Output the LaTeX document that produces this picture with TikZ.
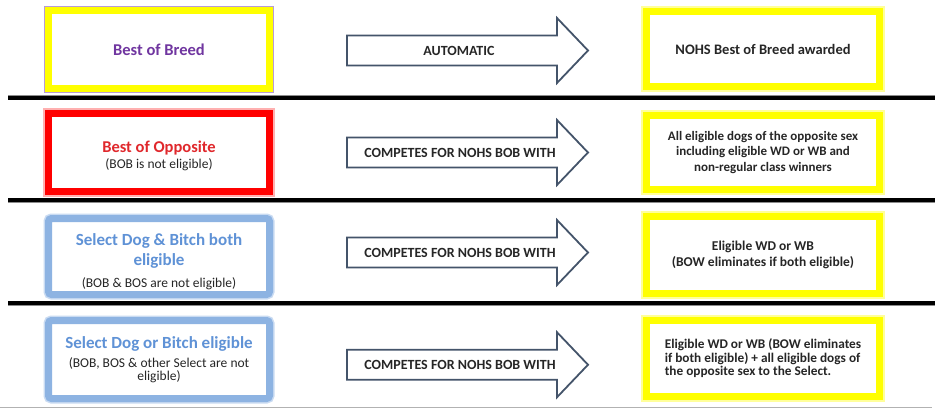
\documentclass[tikz,border=0pt]{standalone}
\usepackage{fontspec}
\setmainfont{Carlito}
\definecolor{ybord}{HTML}{FFFF00}
\definecolor{yglow}{HTML}{FFFF9A}
\definecolor{purpline}{HTML}{B79BD8}
\definecolor{purptext}{HTML}{7036A0}
\definecolor{redbord}{HTML}{FF0000}
\definecolor{redglow}{HTML}{FFB0B0}
\definecolor{redtext}{HTML}{E0282C}
\definecolor{bluebord}{HTML}{8DB3E2}
\definecolor{blueglow}{HTML}{C9DBF2}
\definecolor{bluetext}{HTML}{5F92D6}
\definecolor{arrowline}{HTML}{44546A}
\definecolor{dark}{HTML}{262626}
\newcommand{\boxfont}{\fontsize{13.5}{20}\selectfont\setlength{\lineskiplimit}{-100pt}}
\newcommand{\subt}{\fontsize{13.5}{20}\selectfont\mdseries}
\newcommand{\ttlfont}{\fontsize{17}{20}\selectfont\bfseries}
\tikzset{
  box/.style={rectangle, minimum width=221pt, inner sep=2pt, align=center, fill=white,
    font=\boxfont},
  rbox/.style={rectangle, minimum width=233pt, inner sep=2pt, fill=white, text=dark,
    draw=ybord, line width=7pt, preaction={draw=yglow, line width=11pt}},
  ybox/.style={box, draw=ybord, line width=7pt, preaction={draw=purpline, line width=9pt}},
  redbox/.style={box, draw=redbord, line width=7pt, preaction={draw=redglow, line width=11pt}},
  bluebox/.style={box, draw=bluebord, line width=7pt, rounded corners=3pt, preaction={draw=blueglow, line width=10pt}},
  arrowshape/.style={draw=arrowline, line width=1.8pt, fill=white, line join=miter},
  arrowtext/.style={inner sep=0pt, text=dark, font=\fontsize{14}{16}\selectfont\bfseries},
  sepline/.style={line width=3.2pt, black, preaction={draw=black!45, line width=5pt}},
}
\begin{document}
\begin{tikzpicture}[x=1pt,y=-1pt]
\useasboundingbox (0,0) rectangle (937,409);
\fill[white] (0,0) rectangle (937,409);

% separators
\draw[sepline] (8,98) -- (935,98);
\draw[sepline] (8,200) -- (935,200);
\draw[sepline] (8,303) -- (935,303);
\draw[black!30, line width=1pt] (0,407.5) -- (932,407.5);

% left boxes
\node[ybox, minimum height=78pt, text=purptext] (l1) at (159,49.5) {\fontsize{16.5}{20}\selectfont\bfseries Best of Breed};
\node[redbox, minimum height=78pt] (l2) at (159,152.5)
  {\rule{0pt}{18.5pt}\textcolor{redtext}{\fontsize{16.5}{20}\selectfont\bfseries Best of Opposite}\\[-4pt]
   \textcolor{dark}{\subt (BOB is not eligible)}};
\node[bluebox, minimum height=76pt] (l3) at (159,256.5)
  {\rule{0pt}{22pt}\textcolor{bluetext}{\ttlfont Select Dog \& Bitch both}\\
   \textcolor{bluetext}{\ttlfont eligible}\\[2pt]
   \textcolor{dark}{\subt (BOB \& BOS are not eligible)}};
\node[bluebox, minimum height=78pt] (l4) at (159,359.5)
  {\textcolor{bluetext}{\ttlfont Select Dog or Bitch eligible}\\[-1pt]
   \textcolor{dark}{\subt (BOB, BOS \& other Select are not}\\[-7pt]
   \textcolor{dark}{\subt eligible)}};

% right boxes
\node[rbox, minimum height=75pt, align=center, font=\fontsize{14.5}{17}\selectfont\bfseries] (r1) at (763,49) {NOHS Best of Breed awarded};
\node[rbox, minimum height=74pt, align=center, font=\fontsize{13}{15.5}\selectfont\bfseries] (r2) at (763,152.5)
  {All eligible dogs of the opposite sex\\including eligible WD or WB and\\non-regular class winners};
\node[rbox, minimum height=77pt, align=center, font=\fontsize{13.5}{15.5}\selectfont\bfseries] (r3) at (763,255)
  {Eligible WD or WB\\(BOW eliminates if both eligible)};
\node[rbox, minimum height=76pt, align=left, font=\fontsize{13.3}{13.6}\selectfont\bfseries] (r4) at (763,358.5)
  {Eligible WD or WB (BOW eliminates\\if both eligible) + all eligible dogs of\\the opposite sex to the Select.};

% arrows
\foreach \c in {50.5, 152.5, 252.5, 364.75}{
  \draw[arrowshape] (347,\c-15) -- (557,\c-15) -- (557,\c-32.5) -- (588,\c) -- (557,\c+32.5) -- (557,\c+15) -- (347,\c+15) -- cycle;
}
\node[arrowtext] (t1) at (459,50.5) {AUTOMATIC};
\node[arrowtext] (t2) at (460,152.5) {COMPETES FOR NOHS BOB WITH};
\node[arrowtext] (t3) at (460,252.5) {COMPETES FOR NOHS BOB WITH};
\node[arrowtext] (t4) at (460,364.75) {COMPETES FOR NOHS BOB WITH};
\end{tikzpicture}
\end{document}
